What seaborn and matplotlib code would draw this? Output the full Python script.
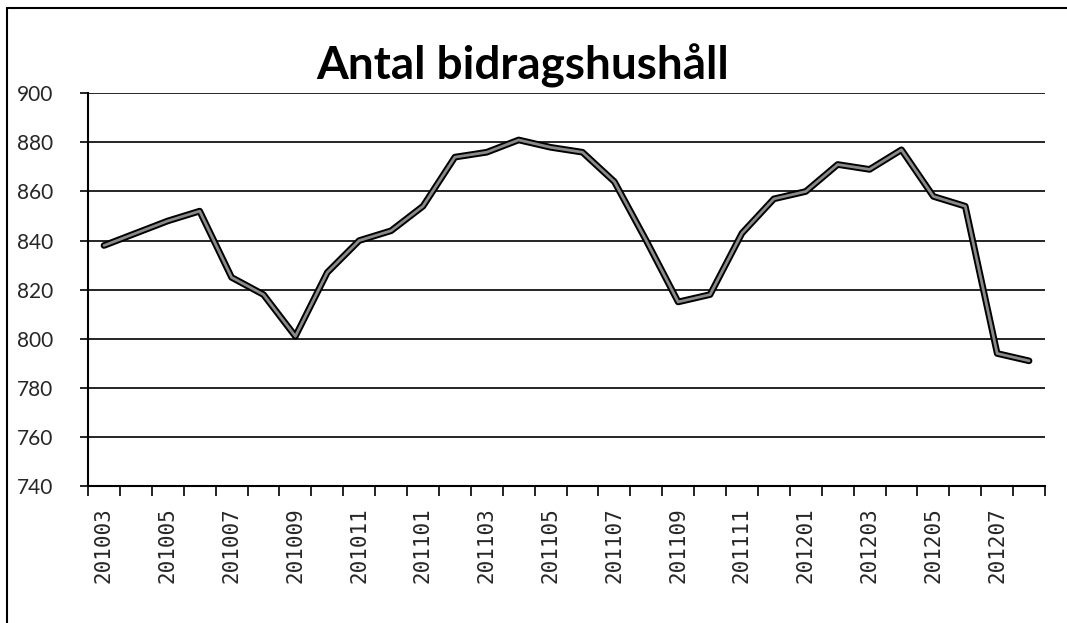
import matplotlib
matplotlib.use("Agg")
import matplotlib.pyplot as plt
import matplotlib.patheffects as pe
from matplotlib.lines import Line2D
import seaborn as sns
import pandas as pd
import numpy as np

months = ["201003", "201004", "201005", "201006", "201007", "201008", "201009", "201010",
          "201011", "201012", "201101", "201102", "201103", "201104", "201105", "201106",
          "201107", "201108", "201109", "201110", "201111", "201112", "201201", "201202",
          "201203", "201204", "201205", "201206", "201207", "201208"]
households = [838, 843, 848, 852, 825, 818, 801, 827, 840, 844, 854, 874, 876, 881, 878,
              876, 864, 840, 815, 818, 843, 857, 860, 871, 869, 877, 858, 854, 794, 791]
y_ticks = [740, 760, 780, 800, 820, 840, 860, 880, 900]
title = "Antal bidragshushåll"

sns.set_theme(style="white")
plt.rcParams["font.family"] = ["Lato", "DejaVu Sans"]

df = pd.DataFrame({"month": months, "value": households, "idx": np.arange(len(months))})

fig = plt.figure(figsize=(10.67, 6.23), dpi=100)
ax = fig.add_axes([0.0825, 0.2199, 0.9794 - 0.0825, 0.8502 - 0.2199])

sns.lineplot(data=df, x="idx", y="value", ax=ax, color="#8a8a8a", linewidth=2.0,
             path_effects=[pe.Stroke(linewidth=4.8, foreground="black"), pe.Normal()],
             zorder=3)

ax.set_ylim(740, 900)
ax.set_xlim(-0.5, len(months) - 0.5)
ax.set_yticks(y_ticks)
ax.set_yticklabels([str(v) for v in y_ticks], fontsize=15)
ax.yaxis.grid(True, color="black", linewidth=1.2)
ax.xaxis.grid(False)
ax.tick_params(axis="y", direction="out", length=6, width=1.2, color="black", pad=19, left=True)

major = np.arange(0, len(months), 2)
ax.set_xticks(major)
ax.set_xticklabels([months[i] for i in major], rotation=90, fontsize=15,
                   family="DejaVu Sans Mono")
ax.set_xticks(np.arange(-0.5, len(months), 1), minor=True)
ax.tick_params(axis="x", which="major", length=0, pad=15)
ax.tick_params(axis="x", which="minor", direction="out", length=7, width=1.2,
               color="black", bottom=True)

ax.set_xlabel("")
ax.set_ylabel("")
for s in ["top", "right"]:
    ax.spines[s].set_visible(False)
for s in ["left", "bottom"]:
    ax.spines[s].set_color("black")
    ax.spines[s].set_linewidth(1.5)

fig.text(0.49, 0.873, title, ha="center", va="baseline", fontsize=33,
         fontweight="bold", color="black")

# outer chart frame (left and top edges visible in the scan)
fig.add_artist(Line2D([7 / 1067, 7 / 1067], [0, 1 - 8 / 623], transform=fig.transFigure,
                      color="black", linewidth=1.5))
fig.add_artist(Line2D([7 / 1067, 1], [1 - 8 / 623, 1 - 8 / 623], transform=fig.transFigure,
                      color="black", linewidth=1.5))

fig.savefig("out.png", dpi=100, facecolor="white")
